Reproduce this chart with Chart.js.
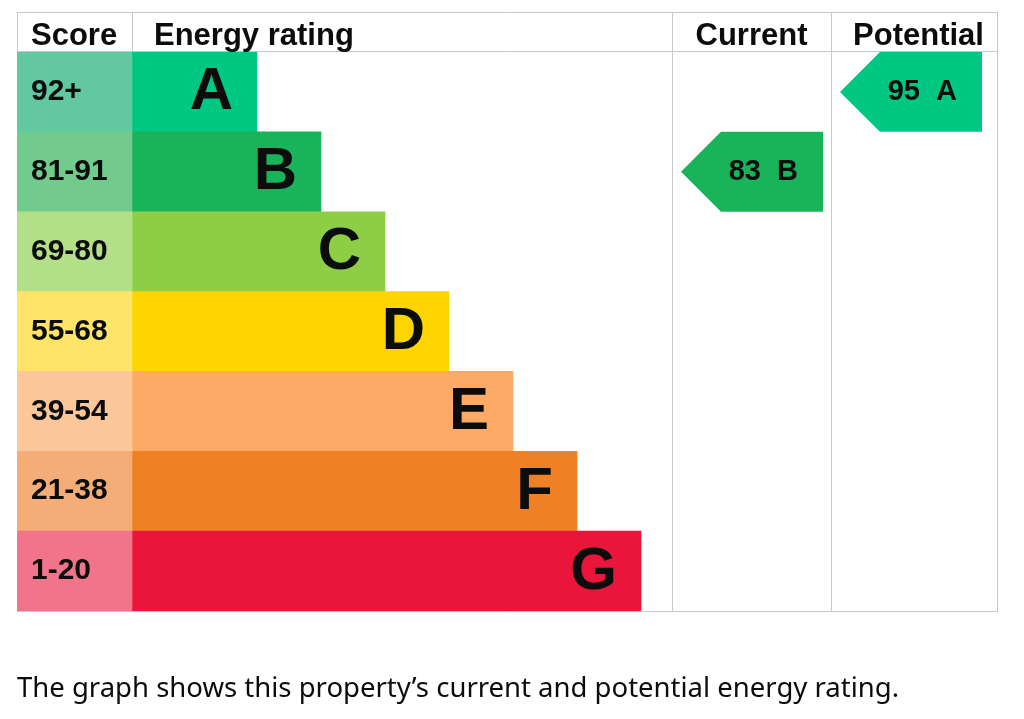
<!DOCTYPE html>
<html>
<head>
<meta charset="utf-8">
<script src="https://cdn.jsdelivr.net/npm/chart.js@4.4.1/dist/chart.umd.min.js"></script>
<style>
  html, body { margin: 0; padding: 0; background: #fff; }
  #wrap { position: relative; width: 1024px; height: 719px; overflow: hidden; }
  #epc { position: absolute; left: 0; top: 0; }
  #caption {
    position: absolute; left: 17px; top: 668px; margin: 0;
    font-family: "Noto Sans", sans-serif; font-size: 27.5px; color: #0b0c0c;
    white-space: nowrap;
  }
</style>
</head>
<body>
<div id="wrap">
  <canvas id="epc" width="1024" height="719"></canvas>
  <p id="caption">The graph shows this property’s current and potential energy rating.</p>
</div>
<script>
// Datos del gráfico
const bands = ['A', 'B', 'C', 'D', 'E', 'F', 'G'];
const scoreRanges = ['92+', '81-91', '69-80', '55-68', '39-54', '21-38', '1-20'];
const bandMin = [92, 81, 69, 55, 39, 21, 1];
const currentScore = 83;
const potentialScore = 95;

// Colores
const bandColours = ['#00c781', '#19b459', '#8dce46', '#ffd500', '#fcaa65', '#ef8023', '#e9153b'];
const scoreColours = ['#62c8a2', '#72cb8c', '#b4df89', '#ffe46a', '#fdc79c', '#f4ad76', '#f2748a'];
const lineColour = '#c6c8c9';
const textColour = '#0b0c0c';
const fontFamily = 'Arial, "Liberation Sans", Helvetica, sans-serif';

// Columnas de la tabla (en unidades del eje x: 0 = borde izquierdo)
const cols = { score: 115, current: 655, potential: 814, end: 981 };
const barFirst = 125, barStep = 64;   // largo de la barra A y aumento por banda
const arrowInset = 9, arrowLen = 142;

function bandFor(score) {
    return bandMin.findIndex(m => score >= m);
}
const currentBand = bandFor(currentScore);
const potentialBand = bandFor(potentialScore);

function arrowData(band, colStart) {
    return bands.map((b, i) => i === band ? [colStart + arrowInset, colStart + arrowInset + arrowLen] : null);
}

// Plugin: tabla, textos y flechas
const epcTable = {
    id: 'epcTable',
    afterDatasetsDraw(chart) {
        const { ctx, scales: { x, y }, chartArea: area } = chart;
        const top = 12;
        const xs = v => x.getPixelForValue(v);

        // flechas
        [2, 3].forEach(di => {
            const meta = chart.getDatasetMeta(di);
            const ds = chart.data.datasets[di];
            meta.data.forEach((el, i) => {
                if (ds.data[i] === null) return;
                const p = el.getProps(['x', 'y', 'base', 'height'], true);
                const h = p.height / 2;
                const left = Math.min(p.base, p.x), right = Math.max(p.base, p.x);
                ctx.save();
                ctx.fillStyle = bandColours[i];
                ctx.beginPath();
                ctx.moveTo(left, p.y);
                ctx.lineTo(left + h, p.y - h);
                ctx.lineTo(right, p.y - h);
                ctx.lineTo(right, p.y + h);
                ctx.lineTo(left + h, p.y + h);
                ctx.closePath();
                ctx.fill();
                ctx.fillStyle = textColour;
                ctx.font = 'bold 29px ' + fontFamily;
                ctx.textAlign = 'right';
                ctx.textBaseline = 'middle';
                ctx.fillText(ds.scoreValue + '  ' + bands[i], right - 25, p.y);
                ctx.restore();
            });
        });

        // textos de puntuación y letras
        ctx.save();
        ctx.fillStyle = textColour;
        ctx.textBaseline = 'middle';
        bands.forEach((b, i) => {
            const cy = y.getPixelForValue(i);
            ctx.font = 'bold 30px ' + fontFamily;
            ctx.textAlign = 'left';
            ctx.fillText(scoreRanges[i], area.left + 14, cy);
            const barEnd = chart.getDatasetMeta(1).data[i].x;
            ctx.font = 'bold 60px ' + fontFamily;
            ctx.textAlign = 'right';
            ctx.fillText(b, barEnd - 24, cy + 1);
        });

        // líneas de la tabla
        ctx.strokeStyle = lineColour;
        ctx.lineWidth = 1;
        const hLine = (yy) => { ctx.beginPath(); ctx.moveTo(area.left, yy); ctx.lineTo(area.right, yy); ctx.stroke(); };
        const vLine = (xx, y0, y1) => { ctx.beginPath(); ctx.moveTo(xx, y0); ctx.lineTo(xx, y1); ctx.stroke(); };
        hLine(top + 0.5);
        hLine(area.top - 0.5);
        hLine(area.bottom + 0.5);
        vLine(area.left + 0.5, top, area.top);
        vLine(Math.round(xs(cols.score)) + 0.5, top, area.top);
        vLine(Math.round(xs(cols.current)) + 0.5, top, area.bottom + 1);
        vLine(Math.round(xs(cols.potential)) + 0.5, top, area.bottom + 1);
        vLine(area.right - 0.5, top, area.bottom + 1);

        // cabecera
        ctx.font = 'bold 31px ' + fontFamily;
        ctx.textBaseline = 'alphabetic';
        const hy = area.top - 7;
        ctx.textAlign = 'left';
        ctx.fillText('Score', area.left + 14, hy);
        ctx.fillText('Energy rating', xs(cols.score) + 22, hy);
        ctx.textAlign = 'center';
        ctx.fillText('Current', (xs(cols.current) + xs(cols.potential)) / 2, hy);
        ctx.fillText('Potential', (xs(cols.potential) + xs(cols.end)) / 2 + 4, hy);
        ctx.restore();
    }
};

new Chart(document.getElementById('epc'), {
    type: 'bar',
    data: {
        labels: bands,
        datasets: [
            { label: 'Score', data: bands.map(() => [0, cols.score]), backgroundColor: scoreColours },
            { label: 'Energy rating', data: bands.map((b, i) => [cols.score, cols.score + barFirst + barStep * i]), backgroundColor: bandColours },
            { label: 'Current', data: arrowData(currentBand, cols.current), backgroundColor: 'rgba(0,0,0,0)', scoreValue: currentScore },
            { label: 'Potential', data: arrowData(potentialBand, cols.potential), backgroundColor: 'rgba(0,0,0,0)', scoreValue: potentialScore }
        ]
    },
    options: {
        indexAxis: 'y',
        responsive: false,
        devicePixelRatio: 1,
        animation: false,
        layout: { padding: { left: 17, top: 52, right: 26, bottom: 108 } },
        datasets: { bar: { grouped: false, barPercentage: 1, categoryPercentage: 1, borderWidth: 0 } },
        scales: {
            x: { type: 'linear', min: 0, max: cols.end, display: false },
            y: { type: 'category', display: false }
        },
        plugins: { legend: { display: false }, tooltip: { enabled: false } }
    },
    plugins: [epcTable]
});
</script>
</body>
</html>
